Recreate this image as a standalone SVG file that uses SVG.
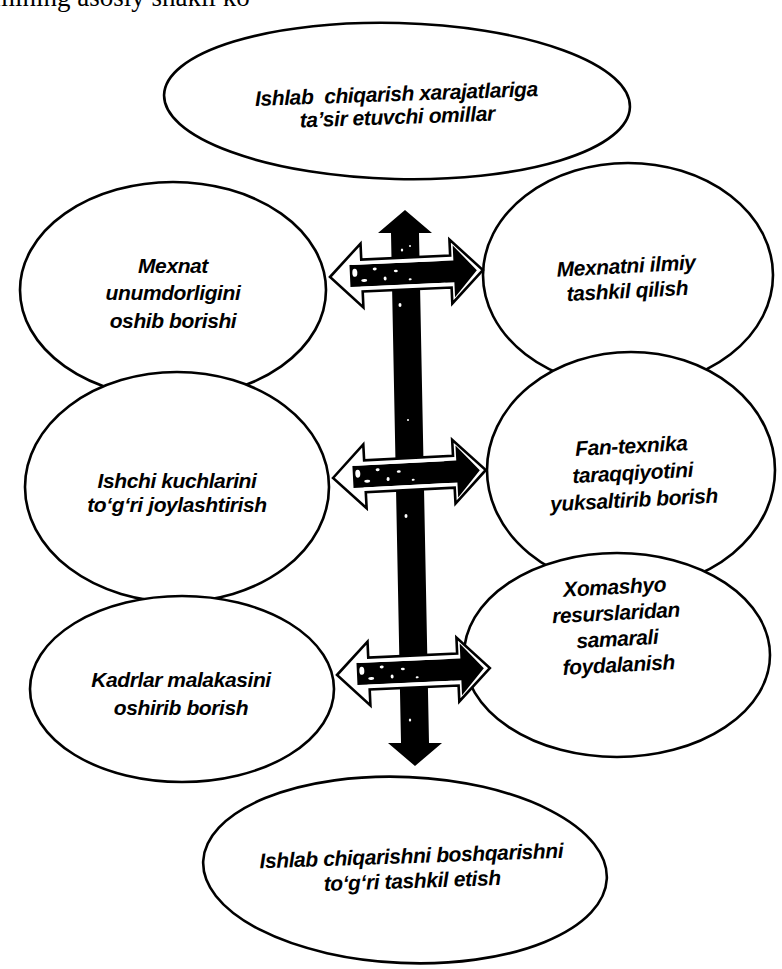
<svg xmlns="http://www.w3.org/2000/svg" width="782" height="969" viewBox="0 0 782 969">
<style>
.el{fill:#fff;stroke:#000;stroke-width:2.6}
.t{font-family:"Liberation Sans",Arial,sans-serif;font-style:italic;font-weight:bold;font-size:21px;letter-spacing:-0.4px;fill:#000;text-anchor:middle}
.hd{fill:#fff;stroke:#000;stroke-width:2.6;stroke-linejoin:miter}
.in{fill:#000}
.sp{fill:#fff}
</style>
<defs>
<g id="harrow">
<path class="hd" d="M0,0 L32,-32 L32,-16 L121,-16 L121,-32 L153,0 L121,32 L121,16 L32,16 L32,32 Z"/>
<path class="in" d="M20,-11 L124,-11 L124,-26 L147,0 L124,26 L124,11 L20,11 Z"/>
<g class="sp">
<ellipse cx="25" cy="-3" rx="2.5" ry="4"/>
<ellipse cx="34" cy="5" rx="3" ry="1.5"/>
<ellipse cx="45" cy="-6" rx="2" ry="1.5"/>
<ellipse cx="55" cy="4" rx="1.5" ry="2"/>
<ellipse cx="66" cy="-3" rx="2" ry="1.2"/>
<ellipse cx="80" cy="6" rx="1.5" ry="1"/>
<rect x="22" y="-13" width="90" height="2"/>
<rect x="30" y="11" width="85" height="2"/>
</g>
</g>
</defs>
<text x="-6" y="6" style="font-family:'Liberation Serif','Times New Roman',serif;font-size:27px">mining asosiy shakli ko</text>
<g id="n-top">
<ellipse class="el" cx="397" cy="101" rx="233" ry="78" transform="rotate(1.5 397 101)"/>
<text class="t" transform="rotate(-2 397 110)" xml:space="preserve"><tspan x="397" y="101">Ishlab  chiqarish xarajatlariga</tspan><tspan x="397" y="124">ta’sir etuvchi omillar</tspan></text>
</g>
<g id="n-left1">
<ellipse class="el" cx="173" cy="290" rx="153" ry="108"/>
<text class="t"><tspan x="173" y="273">Mexnat</tspan><tspan x="173" y="300">unumdorligini</tspan><tspan x="173" y="328">oshib borishi</tspan></text>
</g>
<g id="n-right1">
<ellipse class="el" cx="628" cy="275" rx="145" ry="112"/>
<text class="t" transform="rotate(-3 628 285)"><tspan x="627" y="273">Mexnatni ilmiy</tspan><tspan x="627" y="298">tashkil qilish</tspan></text>
</g>
<g id="n-left2">
<ellipse class="el" cx="177" cy="487" rx="152" ry="115"/>
<text class="t"><tspan x="177" y="488">Ishchi kuchlarini</tspan><tspan x="177" y="512">to‘g‘ri joylashtirish</tspan></text>
</g>
<g id="n-right2">
<ellipse class="el" cx="631" cy="470" rx="144" ry="118"/>
<text class="t" transform="rotate(-3 633 480)"><tspan x="633" y="453">Fan-texnika</tspan><tspan x="633" y="480">taraqqiyotini</tspan><tspan x="633" y="507">yuksaltirib borish</tspan></text>
</g>
<g id="n-left3">
<ellipse class="el" cx="182" cy="689" rx="152" ry="93"/>
<text class="t"><tspan x="181" y="687">Kadrlar malakasini</tspan><tspan x="181" y="715">oshirib borish</tspan></text>
</g>
<g id="n-right3">
<ellipse class="el" cx="617" cy="655" rx="153" ry="102"/>
<text class="t" transform="rotate(-3 617 632)"><tspan x="617" y="594">Xomashyo</tspan><tspan x="617" y="620">resurslaridan</tspan><tspan x="617" y="646">samarali</tspan><tspan x="617" y="672">foydalanish</tspan></text>
</g>
<g id="n-bottom">
<ellipse class="el" cx="405" cy="870" rx="202" ry="93" transform="rotate(2.5 405 870)"/>
<text class="t" transform="rotate(-2 412 875)"><tspan x="412" y="863">Ishlab chiqarishni boshqarishni</tspan><tspan x="412" y="888">to‘g‘ri tashkil etish</tspan></text>
</g>
<g id="connectors">
<polygon points="405,210 432,233 419,233 429,743 442,743 415,766 388,743 401,743 391,233 378,233" fill="#000"/>
<g fill="#fff">
<ellipse cx="402" cy="250" rx="1.2" ry="1.5"/>
<ellipse cx="410" cy="246" rx="1" ry="1"/>
<ellipse cx="400" cy="305" rx="1.5" ry="2"/>
<ellipse cx="408" cy="420" rx="1" ry="1"/>
<ellipse cx="406" cy="516" rx="1.5" ry="2"/>
<ellipse cx="410" cy="720" rx="1.2" ry="1.5"/>
</g>
<use href="#harrow" transform="translate(330 277) rotate(-2.6)"/>
<use href="#harrow" transform="translate(333 478) rotate(-3)"/>
<use href="#harrow" transform="translate(337 675) rotate(-2.6)"/>
</g>
</svg>
